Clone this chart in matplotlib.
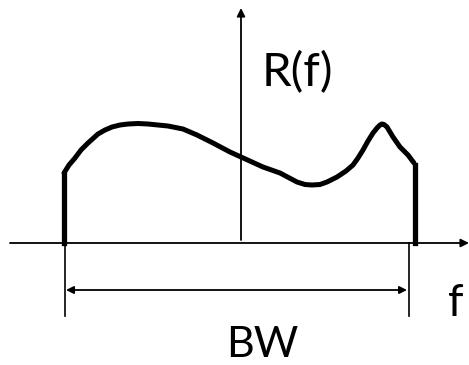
import matplotlib.pyplot as plt

# spectrum R(f) (f and R in pixel units, origin at the axes crossing)
f_vals = [-177, -172, -166, -160, -153, -143, -136, -129, -121, -113, -103, -93, -83,
          -73, -58, -44, -28, -11, 0, 22, 39, 56, 64, 71, 79, 86, 96, 105,
          112, 117, 122, 127, 132, 136, 139, 141, 143, 146, 149, 152, 159, 167, 173]
r_vals = [70, 78, 85, 93, 100, 109, 113, 116, 118, 119, 119.5, 119, 118,
          117, 114, 108, 100, 91, 86, 76, 70, 61, 58.5, 58, 58.5, 61, 66, 72,
          78, 85, 93, 102, 110, 115, 118, 119, 118.5, 116, 111, 106, 96, 88, 80]

band_lo, band_hi = -177, 174     # band edges (thick verticals)
edge_lo_r, edge_hi_r = 68, 78    # height of the verticals
bw_lo, bw_hi = -176, 168         # BW dimension lines
bw_level = -47

fig = plt.figure(figsize=(4.69, 3.65), dpi=100)
ax = fig.add_axes([0, 0, 1, 1])
ax.set_xlim(-241, 228)
ax.set_ylim(-122, 243)
ax.axis('off')

# axes with arrows
arrow = dict(arrowstyle='-|>', color='black', lw=1.3, mutation_scale=12,
             shrinkA=0, shrinkB=0)
ax.annotate('', xy=(228, 0), xytext=(-231, 0), arrowprops=arrow)
ax.annotate('', xy=(0, 235), xytext=(0, 3), arrowprops=arrow)

# spectrum
ax.plot(f_vals, r_vals, color='black', lw=3.6, solid_joinstyle='round',
        solid_capstyle='round')
ax.plot([band_lo, band_lo], [0, edge_lo_r], color='black', lw=3.8)
ax.plot([band_hi, band_hi], [0, edge_hi_r], color='black', lw=3.8)

# bandwidth dimension
ax.plot([bw_lo, bw_lo], [0, -73], color='black', lw=1.2)
ax.plot([bw_hi, bw_hi], [0, -73], color='black', lw=1.2)
ax.annotate('', xy=(bw_lo + 1, bw_level), xytext=(bw_hi - 2, bw_level),
            arrowprops=dict(arrowstyle='<|-|>', color='black', lw=1.3,
                            mutation_scale=11, shrinkA=0, shrinkB=0))

ax.text(21, 170, 'R(f)', fontsize=34, family='Lato', ha='left', va='center')
ax.text(215, -60, 'f', fontsize=32, family='Lato', ha='center', va='center')
ax.text(21, -102, 'BW', fontsize=31, family='Lato', ha='center', va='center')

fig.savefig('out.png', dpi=100)
